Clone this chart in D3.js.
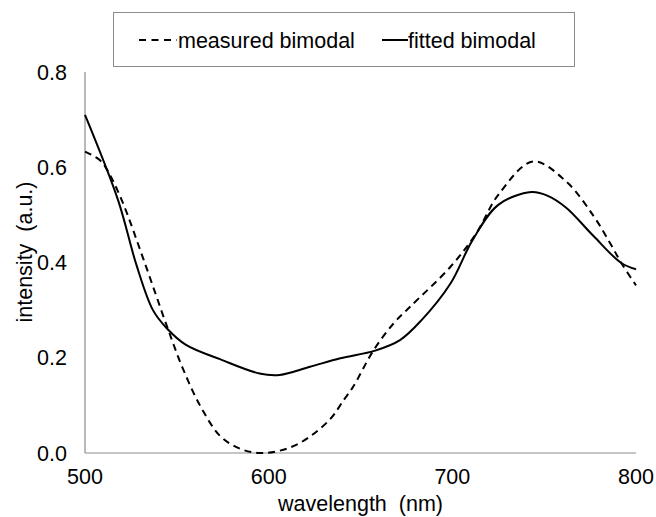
<!DOCTYPE html>
<html><head><meta charset="utf-8">
<script src="https://cdn.jsdelivr.net/npm/d3@7"></script>
<style>body{margin:0;background:#fff;} svg{display:block;font-family:"Liberation Sans",Arial,sans-serif;}</style>
</head><body>
<svg id="c" width="656" height="517"></svg>
<script>
const measuredX = [500,508,512,520,532,545,553,563,574,585,595,605,617,633,641,646,657,668,677,699,713,725,744,762,777,786,792,800];
const measured = [0.633,0.615,0.595,0.531,0.405,0.262,0.18,0.097,0.034,0.008,0.0,0.004,0.021,0.069,0.112,0.139,0.215,0.272,0.307,0.391,0.461,0.542,0.612,0.570,0.497,0.44,0.399,0.352];
const fittedX = [500,518,528,537,544.5,555,573.5,595,606,622.5,639,658,671.5,683,699,711,725,743,752,762,777,792,800];
const fitted = [0.71,0.531,0.395,0.30,0.262,0.227,0.197,0.167,0.164,0.181,0.199,0.215,0.237,0.278,0.356,0.447,0.521,0.548,0.540,0.515,0.455,0.399,0.386];
const xTicks = [500,600,700,800];
const yTicks = [0,0.2,0.4,0.6,0.8];
const seriesNames = ["measured bimodal","fitted bimodal"];

const svg = d3.select("#c");
const x = d3.scaleLinear().domain([500,800]).range([85,636]);
const y = d3.scaleLinear().domain([0,0.8]).range([453,72]);
const FS = 21.5;

svg.append("line").attr("x1",85).attr("x2",85).attr("y1",72).attr("y2",453).attr("stroke","#8c8c8c").attr("stroke-width",1.2);
svg.append("line").attr("x1",85).attr("x2",636).attr("y1",453).attr("y2",453).attr("stroke","#8c8c8c").attr("stroke-width",1.2);

svg.selectAll(".yt").data(yTicks).enter().append("text")
  .attr("x",67).attr("y",d=>y(d)).attr("dy","0.36em").attr("text-anchor","end")
  .attr("font-size",FS).attr("fill","#000").text(d=>d3.format(".1f")(d));
svg.selectAll(".xt").data(xTicks).enter().append("text")
  .attr("x",d=>x(d)).attr("y",484).attr("text-anchor","middle")
  .attr("font-size",FS).attr("fill","#000").text(d=>d);

svg.append("text").attr("x",x(650)).attr("y",511).attr("text-anchor","middle").attr("font-size",FS).attr("xml:space","preserve").text("wavelength  (nm)");
svg.append("text").attr("transform","translate(32,252) rotate(-90)").attr("text-anchor","middle").attr("font-size",FS).attr("xml:space","preserve").text("intensity  (a.u.)");

const line = d3.line().curve(d3.curveCatmullRom.alpha(0.5));
svg.append("path").attr("d",line(measuredX.map((w,i)=>[x(w),y(measured[i])])))
  .attr("fill","none").attr("stroke","#000").attr("stroke-width",2).attr("stroke-dasharray","7,5");
svg.append("path").attr("d",line(fittedX.map((w,i)=>[x(w),y(fitted[i])])))
  .attr("fill","none").attr("stroke","#000").attr("stroke-width",2);

// legend
svg.append("rect").attr("x",113.5).attr("y",12.5).attr("width",461).attr("height",54).attr("fill","#fff").attr("stroke","#8c8c8c").attr("stroke-width",1);
svg.append("line").attr("x1",139).attr("x2",177).attr("y1",40).attr("y2",40).attr("stroke","#000").attr("stroke-width",2).attr("stroke-dasharray","7,5.5");
svg.append("text").attr("x",178).attr("y",47.5).attr("font-size",FS).text(seriesNames[0]);
svg.append("line").attr("x1",382).attr("x2",408).attr("y1",40).attr("y2",40).attr("stroke","#000").attr("stroke-width",2);
svg.append("text").attr("x",408).attr("y",47.5).attr("font-size",FS).text(seriesNames[1]);
</script>
</body></html>
